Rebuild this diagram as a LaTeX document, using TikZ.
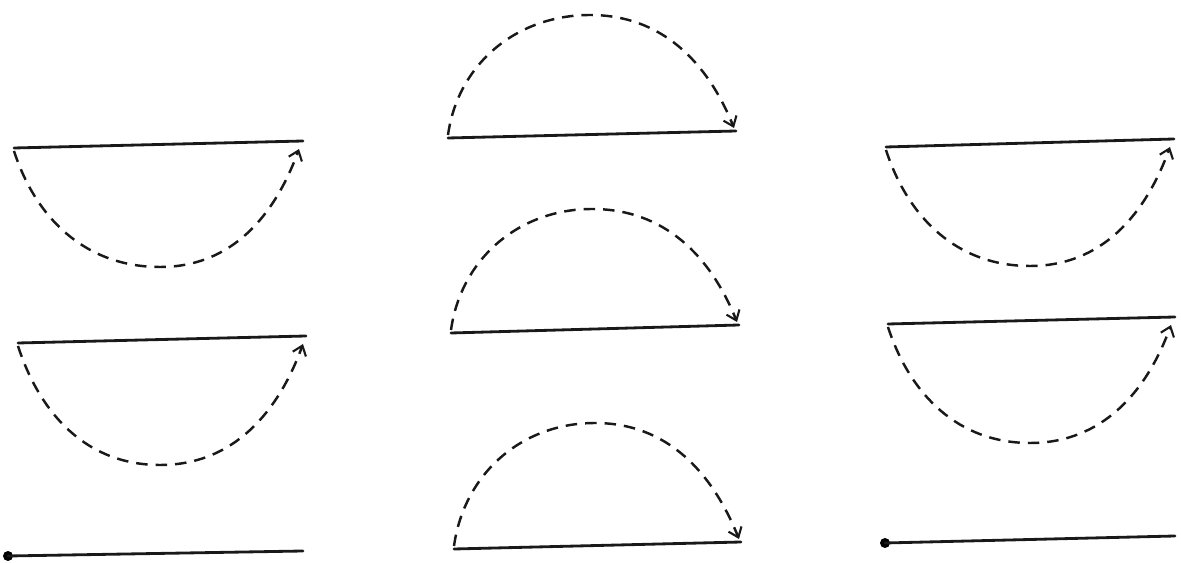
\documentclass[tikz,border=0pt]{standalone}
\usetikzlibrary{arrows.meta}
\begin{document}
\begin{tikzpicture}[x=0.02cm,y=-0.02cm,
  baseline/.style={line width=1.6pt,line cap=round,draw=black!90},
  flight/.style={line width=1.4pt,draw=black!90,dash pattern=on 0.23cm off 0.16cm,
    -{Straight Barb[length=1.8mm,width=2.8mm,line width=1.2pt]}},
  startdot/.style={circle,fill=black,inner sep=0pt,minimum size=0.2cm}]
\useasboundingbox (0,0) rectangle (1181,563);
% left column
\coordinate (L1a) at (14,148); \coordinate (L1b) at (303,141);
\coordinate (L1m) at (160,267); \coordinate (L1s) at (14,151); \coordinate (L1e) at (299,149);
\coordinate (L2a) at (18,343); \coordinate (L2b) at (306,336);
\coordinate (L2m) at (160,465); \coordinate (L2s) at (18,346); \coordinate (L2e) at (303,344);
\node[startdot] (L3a) at (8,556) {}; \coordinate (L3b) at (303,551);
% middle column
\coordinate (M1a) at (448,138); \coordinate (M1b) at (736,131);
\coordinate (M1m) at (590,15); \coordinate (M1s) at (448,135); \coordinate (M1e) at (734,128);
\coordinate (M2a) at (451,333); \coordinate (M2b) at (739,325);
\coordinate (M2m) at (592,209); \coordinate (M2s) at (451,330); \coordinate (M2e) at (737,322);
\coordinate (M3a) at (454,549); \coordinate (M3b) at (741,542);
\coordinate (M3m) at (595,423); \coordinate (M3s) at (454,546); \coordinate (M3e) at (739,539);
% right column
\coordinate (R1a) at (886,147); \coordinate (R1b) at (1174,139);
\coordinate (R1m) at (1030,266); \coordinate (R1s) at (886,150); \coordinate (R1e) at (1170,147);
\coordinate (R2a) at (888,324); \coordinate (R2b) at (1175,317);
\coordinate (R2m) at (1030,443); \coordinate (R2s) at (888,327); \coordinate (R2e) at (1171,325);
\node[startdot] (R3a) at (885,543) {}; \coordinate (R3b) at (1175,536);
% base lines
\foreach \n in {L1,L2,M1,M2,M3,R1,R2} \draw[baseline] (\n a) -- (\n b);
\draw[baseline] (L3a.center) -- (L3b);
\draw[baseline] (R3a.center) -- (R3b);
% dashed arcs below
\foreach \n in {L1,L2,R1,R2}
  \draw[flight] (\n s) to[out=-72,in=180] (\n m) to[out=0,in=-110] (\n e);
% dashed arcs above
\foreach \n in {M1,M2,M3}
  \draw[flight] (\n s) to[out=82,in=180] (\n m) to[out=0,in=112] (\n e);
\end{tikzpicture}
\end{document}
